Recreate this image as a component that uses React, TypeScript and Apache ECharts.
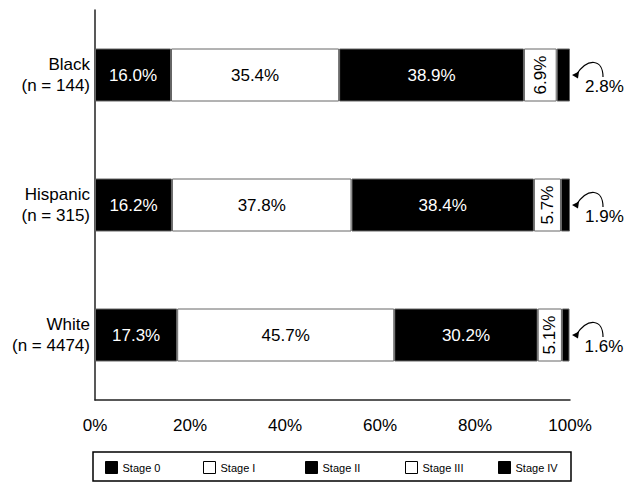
import React, { useEffect, useRef } from "react";
import * as echarts from "echarts";

const categories = ["Black", "Hispanic", "White"];
const counts = [144, 315, 4474];
const stageNames = ["Stage 0", "Stage I", "Stage II", "Stage III", "Stage IV"];
const stage0 = [16.0, 16.2, 17.3];
const stage1 = [35.4, 37.8, 45.7];
const stage2 = [38.9, 38.4, 30.2];
const stage3 = [6.9, 5.7, 5.1];
const stage4 = [2.8, 1.9, 1.6];
const xTicks = [0, 20, 40, 60, 80, 100];

const FONT = "Liberation Sans, Arial, Helvetica, sans-serif";

export default function App() {
  const ref = useRef<HTMLDivElement>(null);
  useEffect(() => {
    document.body.style.margin = "0";
    if (!ref.current) return;
    const chart = echarts.init(ref.current, null, { renderer: "svg" });
    const stageData = [stage0, stage1, stage2, stage3, stage4];
    const fills = ["#000", "#fff", "#000", "#fff", "#000"];
    const fmt = (p: any) => Number(p.value).toFixed(1) + "%";

    const barSeries: any[] = stageData.map((d, i) => {
      const isWhite = fills[i] === "#fff";
      let label: any = {
        show: true,
        position: "inside",
        color: isWhite ? "#000" : "#fff",
        fontSize: 17,
        fontFamily: FONT,
        formatter: fmt,
      };
      if (i === 3) {
        label = { ...label, rotate: 90 };
      }
      if (i === 4) {
        label = {
          ...label,
          position: "right",
          distance: 15,
          offset: [0, 11],
          color: "#000",
        };
      }
      return {
        name: stageNames[i],
        type: "bar",
        stack: "total",
        barWidth: 53,
        data: d,
        itemStyle: { color: fills[i], borderColor: "#666", borderWidth: 1 },
        label,
      };
    });

    const arrowSeries = {
      name: "arrows",
      type: "custom",
      clip: false,
      silent: true,
      data: categories.map((_, i) => [xTicks[xTicks.length - 1], i]),
      encode: { x: 0, y: 1 },
      renderItem: (params: any, api: any) => {
        const p = api.coord([api.value(0), api.value(1)]);
        const x = p[0];
        const y = p[1];
        return {
          type: "group",
          children: [
            {
              type: "bezierCurve",
              shape: {
                x1: x + 33,
                y1: y + 2,
                cpx1: x + 33,
                cpy1: y - 16,
                cpx2: x + 18,
                cpy2: y - 18,
                x2: x + 6,
                y2: y,
              },
              style: { stroke: "#000", lineWidth: 1.2, fill: "none" },
            },
            {
              type: "polygon",
              shape: {
                points: [
                  [x + 2, y],
                  [x + 9, y - 3.5],
                  [x + 8, y + 3.5],
                ],
              },
              style: { fill: "#000" },
            },
          ],
        };
      },
    };

    const legendLefts = [105, 203, 305, 405, 498];
    const legends = stageNames.map((n, i) => ({
      left: legendLefts[i],
      top: 461,
      padding: 0,
      itemWidth: 12,
      itemHeight: 12,
      itemGap: 5,
      selectedMode: false,
      textStyle: { fontSize: 11, fontFamily: FONT, color: "#000" },
      data: [
        {
          name: n,
          icon: "rect",
          itemStyle: {
            color: fills[i],
            borderColor: "#000",
            borderWidth: 1,
          },
        },
      ],
    }));

    chart.setOption({
      animation: false,
      backgroundColor: "#fff",
      textStyle: { fontFamily: FONT },
      grid: { left: 95, right: 70, top: 10, bottom: 89, containLabel: false },
      xAxis: {
        type: "value",
        min: xTicks[0],
        max: xTicks[xTicks.length - 1],
        interval: 20,
        axisLine: { show: true, lineStyle: { color: "#222", width: 1.5 } },
        axisTick: { show: false },
        splitLine: { show: false },
        axisLabel: {
          formatter: "{value}%",
          fontSize: 17,
          fontFamily: FONT,
          color: "#000",
          margin: 17,
        },
      },
      yAxis: {
        type: "category",
        inverse: true,
        data: categories,
        axisLine: { show: true, lineStyle: { color: "#222", width: 1.5 } },
        axisTick: { show: false },
        axisLabel: {
          fontSize: 17,
          fontFamily: FONT,
          color: "#000",
          lineHeight: 21,
          margin: 5,
          align: "right",
          formatter: (v: string, idx: number) => `${v}\n(n = ${counts[idx]})`,
        },
      },
      legend: legends,
      graphic: [
        {
          type: "rect",
          shape: { x: 93, y: 452, width: 478, height: 29 },
          style: { fill: "none", stroke: "#000", lineWidth: 1.5 },
          silent: true,
        },
      ],
      series: [...barSeries, arrowSeries],
    });
    return () => chart.dispose();
  }, []);
  return (
    <div
      ref={ref}
      style={{ position: "fixed", left: 0, top: 0, width: 640, height: 489 }}
    />
  );
}
